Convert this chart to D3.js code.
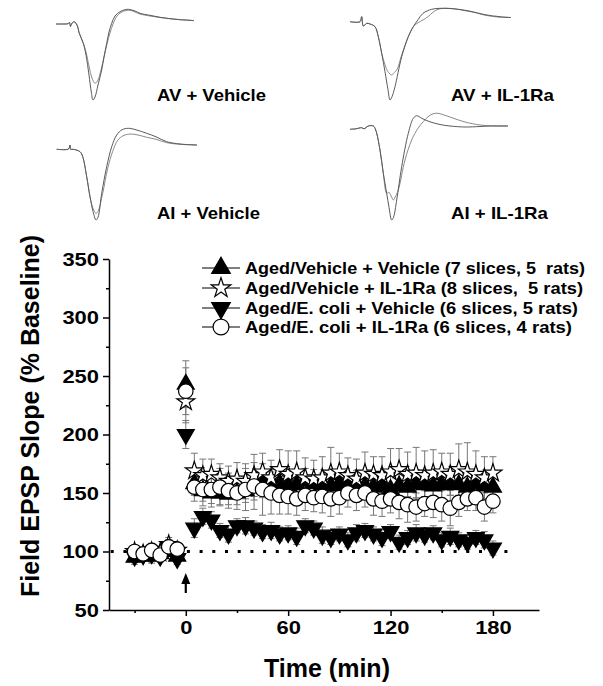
<!DOCTYPE html>
<html>
<head>
<meta charset="utf-8">
<script src="https://cdn.jsdelivr.net/npm/d3@7"></script>
<style>
  body { margin: 0; background: #fff; }
  text { font-family: "Liberation Sans", Arial, sans-serif; font-weight: bold; }
</style>
</head>
<body>
<div id="chart"></div>
<script>
// time points (min)
var times = [-30, -25, -20, -15, -10, -5, 0,
  5, 10, 15, 20, 25, 30, 35, 40, 45, 50, 55, 60, 65, 70, 75, 80, 85, 90,
  95, 100, 105, 110, 115, 120, 125, 130, 135, 140, 145, 150, 155, 160, 165, 170, 175, 180];

var seriesNames = [
  "Aged/Vehicle + Vehicle (7 slices, 5  rats)",
  "Aged/Vehicle + IL-1Ra (8 slices,  5 rats)",
  "Aged/E. coli + Vehicle (6 slices, 5 rats)",
  "Aged/E. coli + IL-1Ra (6 slices, 4 rats)"
];

var vehVeh = [95, 97, 96, 98, 100, 96, 243,
  158, 152, 150, 150, 149, 150, 152, 155, 158, 160, 158, 156, 157, 160, 158, 157, 156, 158,
  157, 158, 156, 155, 156, 153, 156, 155, 158, 157, 156, 157, 158, 157, 155, 158, 156, 155];
var vehIl = [100, 98, 100, 99, 106, 101, 228,
  169, 165, 166, 163, 160, 162, 160, 165, 168, 163, 170, 166, 168, 163, 162, 163, 167, 168,
  165, 162, 167, 166, 165, 168, 170, 166, 167, 165, 167, 168, 166, 170, 168, 166, 163, 167];
var ecoVeh = [96, 97, 98, 96, 104, 94, 200,
  120, 130, 127, 118, 115, 122, 122, 120, 117, 118, 115, 116, 113, 122, 120, 114, 112, 115,
  110, 116, 118, 115, 112, 117, 108, 112, 116, 114, 116, 110, 113, 110, 108, 112, 110, 103];
var ecoIl = [100, 98, 101, 97, 104, 102, 237,
  155, 153, 153, 155, 152, 150, 153, 156, 153, 150, 148, 147, 145, 148, 146, 147, 145, 146,
  150, 148, 150, 145, 143, 145, 142, 140, 138, 141, 142, 140, 137, 142, 145, 146, 138, 143];

var vehVehErr = [6, 5, 6, 5, 6, 5, 20,
  10, 9, 9, 10, 9, 10, 10, 11, 12, 10, 11, 12, 10, 11, 12, 10, 11, 12,
  10, 11, 12, 10, 11, 12, 10, 11, 12, 10, 11, 12, 10, 11, 12, 10, 11, 12];
var vehIlErr = [5, 5, 5, 5, 6, 5, 18,
  15, 14, 13, 12, 13, 14, 15, 18, 16, 15, 17, 20, 18, 17, 16, 18, 22, 16,
  15, 17, 18, 15, 16, 20, 18, 19, 22, 21, 20, 16, 18, 22, 25, 20, 18, 14];
var ecoVehErr = [5, 5, 5, 5, 5, 5, 12,
  8, 7, 7, 6, 7, 6, 7, 6, 6, 7, 6, 6, 7, 6, 6, 7, 6, 6,
  6, 7, 6, 6, 7, 6, 6, 6, 7, 6, 6, 6, 7, 6, 6, 6, 7, 6];
var ecoIlErr = [5, 5, 6, 5, 6, 5, 20,
  12, 14, 15, 16, 15, 14, 18, 20, 22, 18, 16, 15, 14, 13, 12, 14, 15, 14,
  12, 13, 12, 14, 13, 12, 14, 15, 12, 11, 13, 14, 15, 12, 10, 11, 12, 10];

var yTicks = [50, 100, 150, 200, 250, 300, 350];
var yMinor = [75, 125, 175, 225, 275, 325];
var xTicks = [0, 60, 120, 180];
var xMinor = [-30, 30, 90, 150];

// example sweeps, [time, amplitude] in trace units
var avVehBase = [[0, 0], [6, 0], [12, 0.3], [13.5, 1.5], [14.5, -2.5], [15.5, 0], [18, 2.3], [21, -1], [23.3, -9.3], [27.3, -19.3]];
var avVehA = [[30, -31], [33, -51], [35.3, -68], [37, -76], [39, -73], [42, -61], [45.7, -46], [48, -33], [50.7, -19.3], [53, -8],
  [55.7, 0.7], [59, 8], [64, 12.3], [69, 14.3], [72.3, 14.7], [79, 13], [84, 10.7], [94, 8.7], [104, 6.7], [114, 5.3], [124, 4.3], [134, 3.7], [138, 3.3]];
var avVehB = [[30, -28], [33, -42], [36, -54], [39, -59.3], [42, -56], [45, -46], [48, -33], [51, -20], [54, -9], [57, 0],
  [61, 8], [65, 11.5], [70, 13.5], [74, 13.8], [79, 12], [84, 10], [94, 8], [104, 6.5], [114, 5.3], [124, 4.3], [134, 3.7], [138, 3.3]];

var aiVehBase = [[0.7, 0], [12, 0], [13.3, 1.5], [14, 4.3], [14.7, 0], [17.3, 0], [24, -2.4], [26.7, -7.4], [30.7, -27.4], [34, -47.4]];
var aiVehA = [[37, -62], [40, -70.7], [42, -68], [45.7, -44], [50.7, -17.4], [55.7, 2.6], [60.7, 14.3], [66, 19.5], [72.3, 21],
  [80, 19.5], [90.7, 16], [100, 12.5], [110.7, 7.6], [124, 5.3], [141, 4.3]];
var aiVehB = [[37, -59], [40, -64], [42, -62], [46.7, -44], [51.7, -19], [56.7, -2], [61.7, 9], [67, 13.5], [74, 15.3],
  [82, 14.3], [90.7, 12], [100, 10], [110.7, 6.6], [124, 5], [141, 4.3]];

var avIlBase = [[0, 0], [10, 0], [11.7, 5], [13.3, -4.3], [16.7, -1.6], [20, -2.3], [25, -5], [28.3, -15], [31.7, -31.6]];
var avIlA = [[35, -50], [38, -68], [40, -78.3], [42, -75], [45, -65], [51.7, -35], [58.3, -15], [63.3, -5], [68, 2], [73, 8.4],
  [81.7, 12.4], [90, 13.4], [100, 13.2], [110, 12.2], [120, 10.5], [135, 7], [150, 5], [161, 4.2]];
var avIlB = [[35, -43], [38, -50], [41.7, -53.3], [44, -51], [46.7, -48.3], [51.7, -33.3], [58.3, -15], [63.3, -5], [68, -1],
  [73, 1.7], [78, 5], [83, 9.5], [88, 12.4], [95, 13.4], [105, 12.8], [115, 11], [125, 9.2], [135, 6.5], [150, 4.5], [161, 4.2]];

var aiIlBase = [[0, 0], [6, 0.5], [11.7, 1.6], [14, 0.5], [18.3, 3.3], [23.3, 3.3], [25.7, -0.7], [30, -20.7], [33.3, -44], [36.7, -64]];
var aiIlA = [[39, -78], [41.7, -90.7], [43.5, -88], [46.7, -70.7], [51.7, -37.4], [58.3, -4], [63.3, 11], [66.7, 13.6], [71.7, 11],
  [80, 7.5], [90, 4.8], [100, 3.3], [115, 2.3], [130, 2.8], [140, 3.3], [158, 3.3]];
var aiIlB = [[39, -63], [41.7, -68], [43.3, -70.7], [45, -68], [48.3, -60.7], [55, -30.7], [61.7, -10.7], [68, 1], [73.3, 7.6],
  [78, 12.5], [83, 15.5], [88, 16], [95, 14], [105, 10.5], [115, 7.3], [130, 4.3], [145, 3.3], [158, 3.3]];

var traceLabels = ["AV + Vehicle", "AV + IL-1Ra", "AI + Vehicle", "AI + IL-1Ra"];

var svgWidth = 603;
var svgHeight = 686;

var svg = d3.select("#chart")
  .append("svg")
  .attr("width", svgWidth)
  .attr("height", svgHeight);

// ---- sweeps at the top ----
var panels = [
  { left: 56, base: 24, base0: avVehBase, a: avVehA, b: avVehB, label: traceLabels[0], lx: 157, ly: 101, lw: 109 },
  { left: 350, base: 21.7, base0: avIlBase, a: avIlA, b: avIlB, label: traceLabels[1], lx: 451, ly: 101, lw: 103 },
  { left: 56, base: 149.3, base0: aiVehBase, a: aiVehA, b: aiVehB, label: traceLabels[2], lx: 157, ly: 219, lw: 103 },
  { left: 350, base: 129.3, base0: aiIlBase, a: aiIlA, b: aiIlB, label: traceLabels[3], lx: 451, ly: 219, lw: 97 }
];

panels.forEach(function(p) {
  var tx = d3.scaleLinear().domain([0, 160]).range([p.left, p.left + 160]);
  var ty = d3.scaleLinear().domain([-100, 20]).range([p.base + 100, p.base - 20]);
  var line = d3.line()
    .x(d => tx(d[0]))
    .y(d => ty(d[1]))
    .curve(d3.curveCatmullRom);

  svg.append("path")
    .attr("d", line(p.base0.concat(p.b)))
    .attr("fill", "none")
    .attr("stroke", "#8a8a8a")
    .attr("stroke-width", 1);
  svg.append("path")
    .attr("d", line(p.base0.concat(p.a)))
    .attr("fill", "none")
    .attr("stroke", "#5a5a5a")
    .attr("stroke-width", 1);

  svg.append("text")
    .attr("x", p.lx)
    .attr("y", p.ly)
    .attr("font-size", "17px")
    .attr("textLength", p.lw)
    .attr("lengthAdjust", "spacingAndGlyphs")
    .text(p.label);
});

// ---- LTP plot ----
var x = d3.scaleLinear().domain([-45, 207]).range([109, 539]);
var y = d3.scaleLinear().domain([50, 350]).range([610, 259]);

var plot = svg.append("g");

// baseline dotted line
plot.append("line")
  .attr("x1", x(-44))
  .attr("x2", x(189))
  .attr("y1", y(100))
  .attr("y2", y(100))
  .attr("stroke", "#000")
  .attr("stroke-width", 3)
  .attr("stroke-dasharray", "3,9.7");

var series = [
  { name: seriesNames[0], vals: vehVeh, err: vehVehErr, sym: d3.symbolTriangle, size: 125, rot: 0, fill: "#000" },
  { name: seriesNames[1], vals: vehIl, err: vehIlErr, sym: d3.symbolStar, size: 100, rot: 0, fill: "#fff" },
  { name: seriesNames[2], vals: ecoVeh, err: ecoVehErr, sym: d3.symbolTriangle, size: 125, rot: 180, fill: "#000" },
  { name: seriesNames[3], vals: ecoIl, err: ecoIlErr, sym: d3.symbolCircle, size: 165, rot: 0, fill: "#fff" }
];

// error bars behind the symbols
series.forEach(function(s) {
  var g = plot.append("g")
    .attr("stroke", "#777")
    .attr("stroke-width", 1);
  times.forEach(function(t, i) {
    var cx = x(t);
    var top = y(s.vals[i] + s.err[i]);
    var bot = y(s.vals[i] - s.err[i]);
    g.append("line").attr("x1", cx).attr("x2", cx).attr("y1", top).attr("y2", bot);
    g.append("line").attr("x1", cx - 3.5).attr("x2", cx + 3.5).attr("y1", top).attr("y2", top);
    g.append("line").attr("x1", cx - 3.5).attr("x2", cx + 3.5).attr("y1", bot).attr("y2", bot);
  });
});

series.forEach(function(s) {
  plot.append("g").selectAll("path")
    .data(times)
    .enter()
    .append("path")
    .attr("d", d3.symbol().type(s.sym).size(s.size))
    .attr("transform", (t, i) => `translate(${x(t)},${y(s.vals[i])}) rotate(${s.rot})`)
    .attr("fill", s.fill)
    .attr("stroke", "#000")
    .attr("stroke-width", 1.2);
});

// arrow at time 0
plot.append("line")
  .attr("x1", x(0))
  .attr("x2", x(0))
  .attr("y1", 593)
  .attr("y2", 582)
  .attr("stroke", "#000")
  .attr("stroke-width", 2.2);
plot.append("path")
  .attr("d", `M${x(0) - 4.5},${584} L${x(0)},${573} L${x(0) + 4.5},${584} Z`)
  .attr("fill", "#000");

// axes
var leftAxis = d3.axisLeft(y).tickValues(yTicks).tickSize(6).tickSizeOuter(0).tickPadding(4);
var leftMinor = d3.axisLeft(y).tickValues(yMinor).tickSize(3).tickFormat("");
var bottomAxis = d3.axisBottom(x).tickValues(xTicks).tickSize(6).tickSizeOuter(0).tickPadding(5);
var bottomMinor = d3.axisBottom(x).tickValues(xMinor).tickSize(3).tickFormat("");

var yg = plot.append("g").attr("transform", `translate(${x(-45)},0)`).call(leftAxis);
plot.append("g").attr("transform", `translate(${x(-45)},0)`).call(leftMinor).select(".domain").remove();
var xg = plot.append("g").attr("transform", `translate(0,${y(50)})`).call(bottomAxis);
plot.append("g").attr("transform", `translate(0,${y(50)})`).call(bottomMinor).select(".domain").remove();

plot.selectAll(".domain").attr("stroke-width", 1.5);
plot.selectAll(".tick line").attr("stroke-width", 1.5);

yg.selectAll("text")
  .attr("font-size", "19px")
  .attr("font-family", "Liberation Sans, Arial, sans-serif")
  .attr("font-weight", "bold")
  .attr("fill", "#000")
  .attr("textLength", d => String(d).length * 12.2)
  .attr("lengthAdjust", "spacingAndGlyphs");

xg.selectAll("text")
  .attr("font-size", "19px")
  .attr("font-family", "Liberation Sans, Arial, sans-serif")
  .attr("font-weight", "bold")
  .attr("fill", "#000")
  .attr("textLength", d => String(d).length * 12.2)
  .attr("lengthAdjust", "spacingAndGlyphs");

// axis titles
svg.append("text")
  .attr("transform", "translate(39, 416) rotate(-90)")
  .attr("text-anchor", "middle")
  .attr("font-size", "25px")
  .text("Field EPSP Slope (% Baseline)");

svg.append("text")
  .attr("x", 327)
  .attr("y", 677)
  .attr("text-anchor", "middle")
  .attr("font-size", "25px")
  .text("Time (min)");

// legend
var legendY = [268, 288, 308, 327];
var legendW = [340, 338, 333, 327];
var legend = svg.append("g");
series.forEach(function(s, i) {
  var row = legend.append("g").attr("transform", `translate(0,${legendY[i]})`);
  row.append("line")
    .attr("x1", 202).attr("x2", 240)
    .attr("y1", 0).attr("y2", 0)
    .attr("stroke", "#000")
    .attr("stroke-width", 1);
  row.append("path")
    .attr("d", d3.symbol().type(s.sym).size(s.size * 1.2))
    .attr("transform", `translate(221,0) rotate(${s.rot})`)
    .attr("fill", s.fill)
    .attr("stroke", "#000")
    .attr("stroke-width", 1.2);
  row.append("text")
    .attr("x", 245)
    .attr("y", 6)
    .attr("font-size", "16.5px")
    .attr("textLength", legendW[i])
    .attr("lengthAdjust", "spacingAndGlyphs")
    .style("white-space", "pre")
    .text(s.name);
});
</script>
</body>
</html>
